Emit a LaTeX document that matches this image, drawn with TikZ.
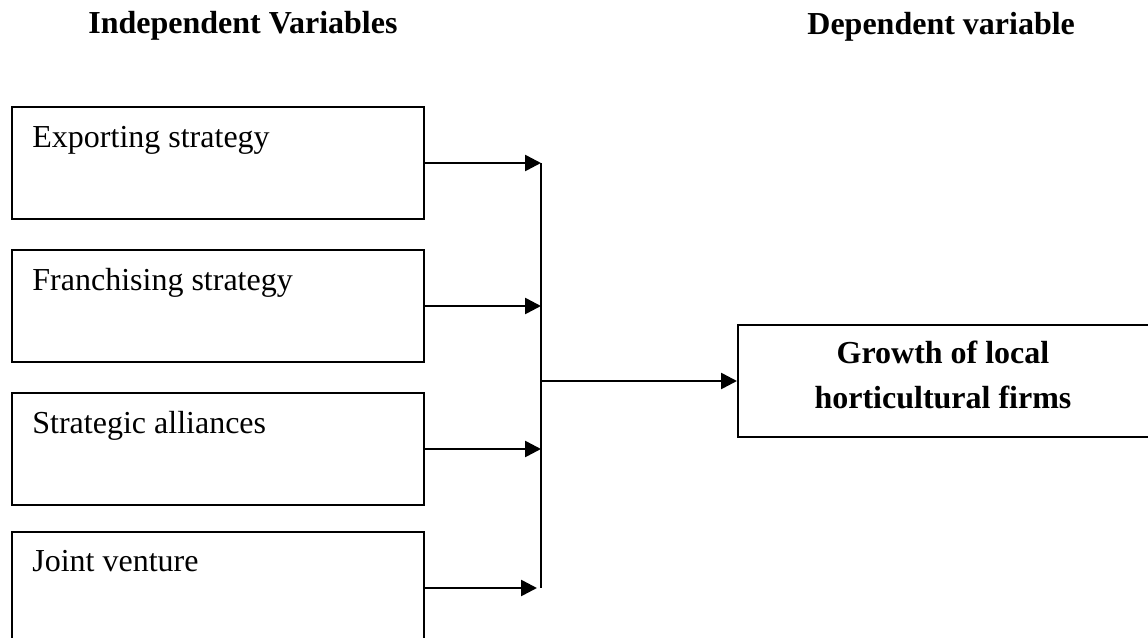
\documentclass[tikz,border=0pt]{standalone}
\usepackage{fontspec}
\setmainfont{Liberation Serif}
\usetikzlibrary{arrows.meta}
\begin{document}
\begin{tikzpicture}[x=0.5pt,y=-0.5pt,
  box/.style={draw, line width=1pt, minimum width=206pt, minimum height=56pt, inner sep=0pt, anchor=north west},
  lbl/.style={anchor=base west, inner sep=0pt, font=\fontsize{16}{19}\selectfont},
  hdr/.style={anchor=base west, inner sep=0pt, font=\fontsize{16}{19}\selectfont\bfseries},
  dtext/.style={anchor=base, inner sep=0pt, font=\fontsize{16}{19}\selectfont\bfseries},
  conn/.style={line width=1.3pt},
  arr/.style={conn, -{Triangle[length=8pt,width=8pt]}}]
\useasboundingbox (0,0) rectangle (1148,638);
\clip (0,0) rectangle (1148,638);
\fill[white] (0,0) rectangle (1148,638);

% headers
\node[hdr] (hind) at (88,33) {Independent Variables};
\node[hdr] (hdep) at (807,34) {Dependent variable};

% independent variable boxes
\node[box] (b1) at (11,106) {};
\node[box] (b2) at (11,249) {};
\node[box] (b3) at (11,392) {};
\node[box] (b4) at (11,531) {};
\node[lbl] (l1) at (32,147) {Exporting strategy};
\node[lbl] (l2) at (32,290) {Franchising strategy};
\node[lbl] (l3) at (32,433) {Strategic alliances};
\node[lbl] (l4) at (32,571) {Joint venture};

% dependent variable box
\node[box, minimum width=207pt] (g) at (737,324) {};
\node[dtext] (g1) at (943,363) {Growth of local};
\node[dtext] (g2) at (943,408) {horticultural firms};

% connectors
\coordinate (bus) at (541,0);
\draw[arr] (b1.east) -- (b1.east -| bus);
\draw[arr] (b2.east) -- (b2.east -| bus);
\draw[arr] (b3.east) -- (b3.east -| bus);
\draw[arr, shorten >=2pt] (b4.east) -- (b4.east -| bus);
\draw[line width=1pt] (b1.east -| bus) -- (b4.east -| bus);
\draw[arr] (g.west -| bus) -- (g.west);
\end{tikzpicture}
\end{document}
